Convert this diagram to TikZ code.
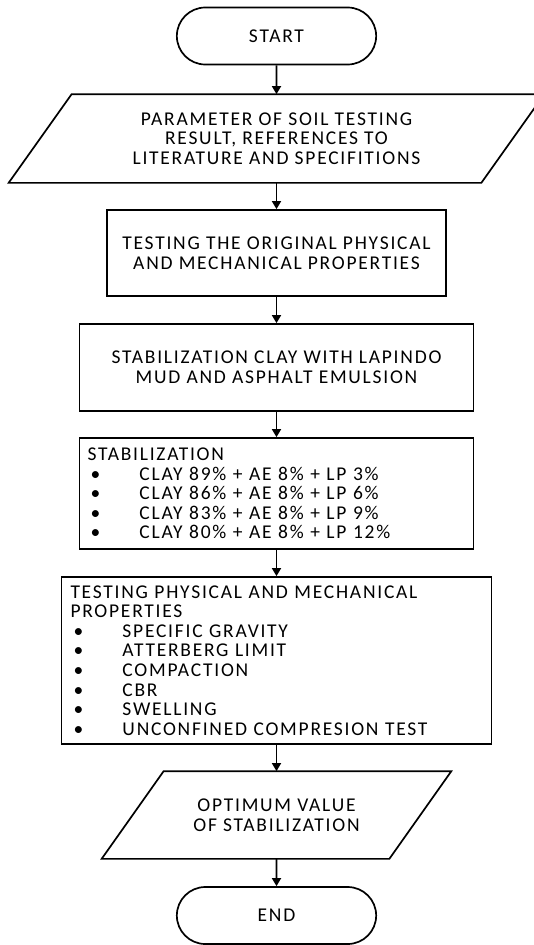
\documentclass[tikz,border=0pt]{standalone}
\usepackage{fontspec}
\setmainfont{Carlito}[LetterSpace=9]
\usepackage{tikz}
\usetikzlibrary{shapes,arrows,positioning,calc,arrows.meta}

\newcommand{\flowbullet}{\makebox[52pt][l]{\hspace{3pt}\textbullet}}

\begin{document}
\begin{tikzpicture}[x=1pt,y=-1pt,line width=1.7pt,
    flowtext/.style={font=\fontsize{19.5}{19.7}\selectfont, align=center},
    terminal/.style={draw, rounded rectangle, flowtext, minimum width=206pt, minimum height=57pt},
    process/.style={draw, rectangle, flowtext},
    iobox/.style={flowtext, inner sep=0pt},
    listbox/.style={draw, rectangle, font=\fontsize{19.5}{19.6}\selectfont, align=left},
    flow/.style={-{Triangle[length=8pt,width=9pt]}}]
    \useasboundingbox (0,0) rectangle (533,945);

    % Start
    \node[terminal] (start) at (276.5,36) {START};

    % Input data
    \node[iobox, minimum width=471pt, minimum height=87pt] (param) at (276.5,138.5)
        {PARAMETER OF SOIL TESTING\\RESULT, REFERENCES TO\\LITERATURE AND SPECIFITIONS};
    \draw ([xshift=31.5pt]param.north west) -- ([xshift=31.5pt]param.north east)
        -- ([xshift=-31.5pt]param.south east) -- ([xshift=-31.5pt]param.south west) -- cycle;

    % Original soil
    \node[process, minimum width=339pt, minimum height=86pt] (orig) at (276.5,253)
        {TESTING THE ORIGINAL PHYSICAL\\AND MECHANICAL PROPERTIES};

    % Stabilization
    \node[process, minimum width=394pt, minimum height=87pt] (stab) at (276.5,367.5)
        {STABILIZATION CLAY WITH LAPINDO\\MUD AND ASPHALT EMULSION};

    % Mixtures
    \node[listbox, text width=378pt, inner xsep=8pt, minimum height=111pt] (mix) at (276.5,493.5)
        {STABILIZATION\\
         \flowbullet CLAY 89\% + AE 8\% + LP 3\%\\
         \flowbullet CLAY 86\% + AE 8\% + LP 6\%\\
         \flowbullet CLAY 83\% + AE 8\% + LP 9\%\\
         \flowbullet CLAY 80\% + AE 8\% + LP 12\%};

    % Tests
    \node[listbox, text width=412pt, inner xsep=9pt, minimum height=167pt] (test) at (276.5,660.5)
        {TESTING PHYSICAL AND MECHANICAL\\PROPERTIES\\
         \flowbullet SPECIFIC GRAVITY\\
         \flowbullet ATTERBERG LIMIT\\
         \flowbullet COMPACTION\\
         \flowbullet CBR\\
         \flowbullet SWELLING\\
         \flowbullet UNCONFINED COMPRESION TEST};

    % Output
    \node[iobox, minimum width=286pt, minimum height=86pt] (optim) at (276.5,815)
        {OPTIMUM VALUE\\OF STABILIZATION};
    \draw ([xshift=31pt]optim.north west) -- ([xshift=31pt]optim.north east)
        -- ([xshift=-31pt]optim.south east) -- ([xshift=-31pt]optim.south west) -- cycle;

    % End
    \node[terminal] (end) at (276.5,915.5) {END};

    % Arrows
    \draw[flow] (start) -- (param);
    \draw[flow] (param) -- (orig);
    \draw[flow] (orig) -- (stab);
    \draw[flow] (stab) -- (mix);
    \draw[flow] (mix) -- (test);
    \draw[flow] (test) -- (optim);
    \draw[flow] (optim) -- (end);
\end{tikzpicture}
\end{document}
